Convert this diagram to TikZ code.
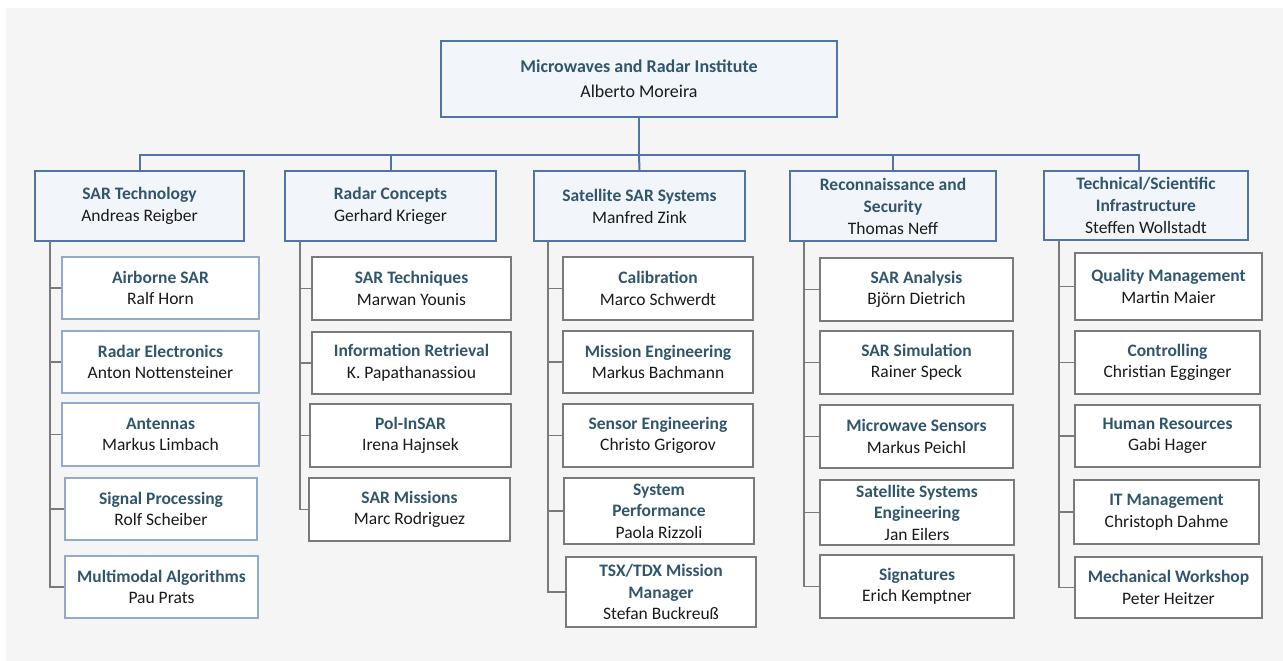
\documentclass[tikz,border=0pt]{standalone}
\usepackage{fontspec}
\setmainfont{Carlito}
\definecolor{bgc}{HTML}{F5F5F5}
\definecolor{titc}{HTML}{31566B}
\definecolor{namec}{HTML}{1A1A1A}
\definecolor{topfill}{HTML}{F2F5FA}
\definecolor{topdraw}{HTML}{4F75A8}
\definecolor{lbdraw}{HTML}{92AACB}
\definecolor{grdraw}{HTML}{7A7A7A}
\newcommand{\T}[1]{{\bfseries\color{titc}#1}}
\newcommand{\ob}[8]{\node[#2, minimum width={(#5-#3)*1pt}, minimum height={(#6-#4)*1pt}] (#1) at ({(#3+#5)/2},{(#4+#6)/2}) {#7\\#8};}
\tikzset{
  base/.style={rectangle, inner sep=0pt, align=center, text=namec, font=\fontsize{17.5}{21.5}\selectfont},
  headbox/.style={base, fill=topfill, draw=topdraw, line width=2pt, font=\fontsize{17.5}{22}\selectfont},
  rootbox/.style={headbox, font=\fontsize{18}{25}\selectfont},
  bluechild/.style={base, fill=white, draw=lbdraw, line width=1.3pt},
  graychild/.style={base, fill=white, draw=grdraw, line width=1.3pt},
  bus/.style={draw=topdraw, line width=2pt},
  conn/.style={draw=grdraw, line width=1.4pt},
}
\begin{document}
\begin{tikzpicture}[x=1pt,y=-1pt]
\useasboundingbox (0,0) rectangle (1283,661);
\fill[bgc] (6,8) rectangle (1283,661);

% root
\ob{root}{rootbox}{441}{41}{837}{117}{\T{Microwaves and Radar Institute}}{Alberto Moreira}

% heads
\ob{h1}{headbox}{35}{171}{244}{241}{\T{SAR Technology}}{Andreas Reigber}
\ob{h2}{headbox}{285}{171}{496}{241}{\T{Radar Concepts}}{Gerhard Krieger}
\ob{h3}{headbox}{534}{171}{745}{241}{\T{Satellite SAR Systems}}{Manfred Zink}
\ob{h4}{headbox}{790}{171}{996}{241}{\T{Reconnaissance and}\\\T{Security}}{Thomas Neff}
\ob{h5}{headbox}{1044}{171}{1248}{240}{\T{Technical/Scientific}\\\T{Infrastructure}}{Steffen Wollstadt}

% column 1
\ob{a1}{bluechild}{62}{257}{259}{319}{\T{Airborne SAR}}{Ralf Horn}
\ob{a2}{bluechild}{62}{331}{259}{393}{\T{Radar Electronics}}{Anton Nottensteiner}
\ob{a3}{bluechild}{62}{403}{259}{466}{\T{Antennas}}{Markus Limbach}
\ob{a4}{bluechild}{65}{478}{257}{540}{\T{Signal Processing}}{Rolf Scheiber}
\ob{a5}{bluechild}{65}{556}{258}{618}{\T{Multimodal Algorithms}}{Pau Prats}

% column 2
\ob{b1}{graychild}{312}{257}{511}{320}{\T{SAR Techniques}}{Marwan Younis}
\ob{b2}{graychild}{312}{332}{511}{394}{\T{Information Retrieval}}{K. Papathanassiou}
\ob{b3}{graychild}{310}{404}{511}{467}{\T{Pol-InSAR}}{Irena Hajnsek}
\ob{b4}{graychild}{309}{478}{510}{541}{\T{SAR Missions}}{Marc Rodriguez}

% column 3
\ob{c1}{graychild}{563}{257}{753}{320}{\T{Calibration}}{Marco Schwerdt}
\ob{c2}{graychild}{563}{331}{753}{393}{\T{Mission Engineering}}{Markus Bachmann}
\ob{c3}{graychild}{563}{404}{753}{467}{\T{Sensor Engineering}}{Christo Grigorov}
\ob{c4}{graychild}{564}{478}{754}{544}{\T{System}\\\T{Performance}}{Paola Rizzoli}
\ob{c5}{graychild}{566}{557}{756}{627}{\T{TSX/TDX Mission}\\\T{Manager}}{Stefan Buckreuß}

% column 4
\ob{d1}{graychild}{820}{258}{1013}{321}{\T{SAR Analysis}}{Björn Dietrich}
\ob{d2}{graychild}{820}{331}{1013}{394}{\T{SAR Simulation}}{Rainer Speck}
\ob{d3}{graychild}{820}{405}{1013}{468}{\T{Microwave Sensors}}{Markus Peichl}
\ob{d4}{graychild}{820}{480}{1014}{545}{\T{Satellite Systems}\\\T{Engineering}}{Jan Eilers}
\ob{d5}{graychild}{820}{555}{1014}{618}{\T{Signatures}}{Erich Kemptner}

% column 5
\ob{e1}{graychild}{1075}{253}{1262}{320}{\T{Quality Management}}{Martin Maier}
\ob{e2}{graychild}{1075}{331}{1260}{394}{\T{Controlling}}{Christian Egginger}
\ob{e3}{graychild}{1075}{405}{1260}{467}{\T{Human Resources}}{Gabi Hager}
\ob{e4}{graychild}{1074}{480}{1259}{544}{\T{IT Management}}{Christoph Dahme}
\ob{e5}{graychild}{1075}{557}{1262}{618}{\T{Mechanical Workshop}}{Peter Heitzer}

% bus
\coordinate (busy) at (639,155);
\coordinate (drop5) at (1139,155);
\draw[bus] (root.south) -- (busy);
\draw[bus] (busy) -| (h1.north);
\draw[bus] (busy) -| (h2.north);
\draw[bus] (busy) -- (h3.north);
\draw[bus] (busy) -| (h4.north);
\draw[bus] (busy) -- (drop5) -- (h5.north -| drop5);

% spines
\coordinate (s1) at (50,241);
\coordinate (s2) at (300,241);
\coordinate (s3) at (548,241);
\coordinate (s4) at (804,241);
\coordinate (s5) at (1059,240);
\foreach \n in {a1,a2,a3,a4,a5} {\draw[conn] (s1) |- (\n.west);}
\foreach \n in {b1,b2,b3,b4} {\draw[conn] (s2) |- (\n.west);}
\foreach \n in {c1,c2,c3,c4,c5} {\draw[conn] (s3) |- (\n.west);}
\foreach \n in {d1,d2,d3,d4,d5} {\draw[conn] (s4) |- (\n.west);}
\foreach \n in {e1,e2,e3,e4,e5} {\draw[conn] (s5) |- (\n.west);}
\end{tikzpicture}
\end{document}
